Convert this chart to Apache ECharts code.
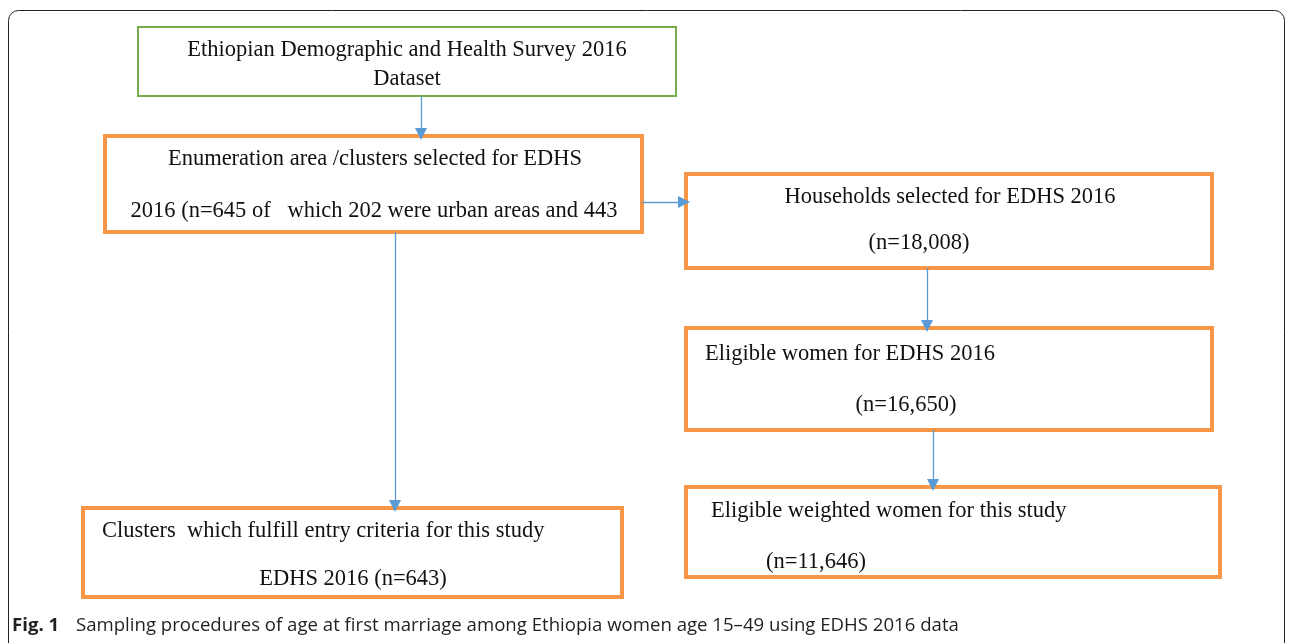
<!DOCTYPE html>
<html>
<head>
<meta charset="utf-8">
<script src="https://cdn.jsdelivr.net/npm/echarts@6/dist/echarts.min.js"></script>
<style>
    html, body {margin: 0; padding: 0; background: #fff;}
    #main {width: 1290px; height: 643px;}
</style>
</head>
<body>
<div id="main"></div>
<script>
// box texts, one list of lines per box
var boxLines = [
    ['Ethiopian Demographic and Health Survey 2016', 'Dataset'],
    ['Enumeration area /clusters selected for EDHS', '2016 (n=645 of   which 202 were urban areas and 443'],
    ['Households selected for EDHS 2016', '(n=18,008)'],
    ['Eligible women for EDHS 2016', '(n=16,650)'],
    ['Eligible weighted women for this study', '(n=11,646)'],
    ['Clusters  which fulfill entry criteria for this study', 'EDHS 2016 (n=643)']
];
// box kind: 0 = source (green), 1 = step (orange)
var boxKind = [0, 1, 1, 1, 1, 1];
// links between boxes (from, to)
var links = [[0, 1], [1, 2], [1, 5], [2, 3], [3, 4]];

// layout in page units
var boxRect = [
    [138, 27, 676, 96],
    [105, 136, 642, 232],
    [686, 174, 1212, 268],
    [686, 328, 1212, 430],
    [686, 487, 1220, 577],
    [83, 508, 622, 597]
];
var linePos = [
    [[407, 50, 'center'], [407, 79, 'center']],
    [[375, 159, 'center'], [374, 211, 'center']],
    [[950, 197, 'center'], [919, 243, 'center']],
    [[705, 354, 'left'], [906, 405, 'center']],
    [[711, 511, 'left'], [766, 562, 'left']],
    [[102, 531, 'left'], [353, 579, 'center']]
];
var linkPath = [
    [[421, 96], [421, 134]],
    [[642, 202], [684, 202]],
    [[395, 232], [395, 506]],
    [[927, 268], [927, 326]],
    [[933, 430], [933, 485]]
];

var chart = echarts.init(document.getElementById('main'));

var boxData = boxRect.map(function (r, i) {
    return [r[0], r[1], r[2], r[3], i];
});

var option = {
    animation: false,
    grid: {left: 0, right: 0, top: 0, bottom: 0},
    xAxis: {type: 'value', min: 0, max: 1290, show: false},
    yAxis: {type: 'value', min: 0, max: 643, inverse: true, show: false},
    graphic: [
        {
            type: 'rect',
            shape: {x: 8.5, y: 10.5, width: 1276, height: 700, r: 10},
            style: {fill: 'none', stroke: '#222', lineWidth: 1}
        },
        {
            type: 'text',
            style: {
                x: 12, y: 626, text: 'Fig. 1', fill: '#231f20',
                font: 'bold 18.6px "Open Sans"', verticalAlign: 'middle'
            }
        },
        {
            type: 'text',
            style: {
                x: 76, y: 626,
                text: 'Sampling procedures of age at first marriage among Ethiopia women age 15\u201349 using EDHS 2016 data',
                fill: '#231f20', font: '18.6px "Open Sans"', verticalAlign: 'middle'
            }
        }
    ],
    series: [
        {
            type: 'custom',
            coordinateSystem: 'cartesian2d',
            data: boxData,
            encode: {x: [0, 2], y: [1, 3]},
            renderItem: function (params, api) {
                var i = api.value(4);
                var p0 = api.coord([api.value(0), api.value(1)]);
                var p1 = api.coord([api.value(2), api.value(3)]);
                var green = boxKind[i] === 0;
                var children = [{
                    type: 'rect',
                    shape: {x: p0[0], y: p0[1], width: p1[0] - p0[0], height: p1[1] - p0[1]},
                    style: {
                        fill: '#fff',
                        stroke: green ? '#77ac4c' : '#f79646',
                        lineWidth: green ? 2 : 4
                    }
                }];
                boxLines[i].forEach(function (t, k) {
                    var lp = linePos[i][k];
                    var c = api.coord([lp[0], lp[1]]);
                    children.push({
                        type: 'text',
                        style: {
                            x: c[0], y: c[1], text: t,
                            fill: '#111',
                            font: '22.5px "Liberation Serif"',
                            align: lp[2], verticalAlign: 'middle'
                        }
                    });
                });
                return {type: 'group', children: children};
            }
        },
        {
            type: 'lines',
            coordinateSystem: 'cartesian2d',
            z: 3,
            symbol: ['none', 'triangle'],
            symbolSize: [10, 12],
            lineStyle: {color: '#5b9bd5', width: 1.3, opacity: 1},
            data: links.map(function (l, i) {
                return {name: l[0] + '-' + l[1], coords: linkPath[i]};
            })
        }
    ]
};

chart.setOption(option);
</script>
</body>
</html>
